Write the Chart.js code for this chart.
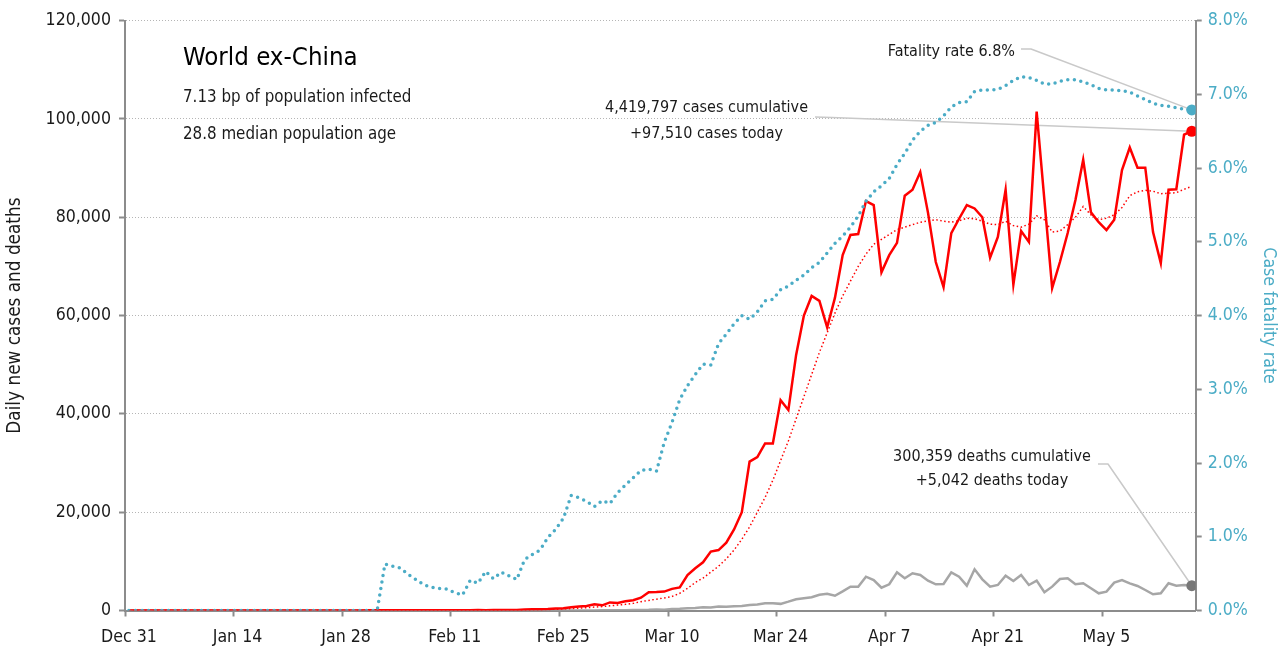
<!DOCTYPE html>
<html><head><meta charset="utf-8">
<script src="https://cdn.jsdelivr.net/npm/chart.js@4.4.1/dist/chart.umd.min.js"></script>
<style>html,body{margin:0;padding:0;background:#fff;overflow:hidden}#wrap{width:1284px;height:652px}</style>
</head><body><div id="wrap"><canvas id="c" width="1284" height="652"></canvas></div>
<script>
// ---------- DATA ----------
const startDate = '2019-12-31';
const tickLabels = ['Dec 31','Jan 14','Jan 28','Feb 11','Feb 25','Mar 10','Mar 24','Apr 7','Apr 21','May 5'];
const casesTicks = [0,20000,40000,60000,80000,100000,120000];
const rateTicks = [0,1,2,3,4,5,6,7,8];

const cases = [0,0,0,0,0,0,0,0,0,0,0,0,0,1,0,1,1,0,0,1,
  2,3,4,9,8,12,15,22,18,20,25,30,
  28,35,26,30,32,40,45,60,42,55,48,65,58,80,70,110,90,100,95,
  200,250,260,300,400,
  450,650,800,900,1250,1050,1650,1550,1900,2100,2600,3700,3750,3850,4400,4700,7200,8600,9800,
  12000,12300,13800,16500,20000,30300,31200,34000,34000,42800,40800,52000,60000,64000,63000,57600,63600,72300,76400,76600,
  83300,82500,68800,72300,74800,84400,85600,89200,80900,70900,65800,76800,79700,82500,81800,80000,71800,76000,85600,66300,
  77200,75000,101500,83500,65600,70900,76800,83500,91700,81000,79000,77400,79500,89600,94200,90100,90100,77000,70700,85600,
  85700,96800,97510];

const casesAvg = [0,0,0,0,0,0,0,0,0,0,0,0,0,0,0,0,0,0,0,0,
  1,1,2,3,4,5,7,8,10,12,13,15,
  17,19,21,23,24,27,30,35,38,42,46,50,53,58,62,70,75,85,90,
  105,130,165,205,260,
  320,400,480,570,690,790,950,1100,1250,1450,1800,2050,2300,2550,2850,3500,4500,5700,6600,
  7800,9000,10500,12300,14500,17000,20000,23000,26500,30500,34500,39000,43500,48000,52500,56500,60500,64000,67000,70000,
  72500,74500,75500,76500,77500,78000,78500,79000,79300,79500,
  79200,79000,79300,79800,79700,79200,78600,78500,79200,78300,78000,78600,80300,79500,77000,77200,78500,80000,82200,80500,
  79500,79800,80500,82000,84400,85200,85500,85300,84800,84900,85000,85700,86300];

const deaths = [0,0,0,0,0,0,0,0,0,0,0,0,0,0,0,0,0,0,0,0,0,0,0,0,0,0,0,0,0,0,0,0,0,0,0,0,0,0,0,0,0,
  0,0,1,0,1,1,0,1,0,1,2,3,5,5,10,
  12,15,18,20,25,35,45,55,60,80,100,130,200,170,
  300,350,450,500,650,600,800,750,850,900,1100,1200,1450,1450,1350,1800,2300,2500,2700,3200,3400,3000,3900,
  4850,4850,6880,6200,4650,5330,7770,6550,7570,7220,6070,5330,5390,7770,6880,5050,8380,6350,4850,5190,
  7080,6000,7220,5190,6070,3700,4850,6410,6550,5330,5530,4520,3500,3830,5660,6200,5530,4990,4170,3300,
  3500,5530,5050,5190,5042];

const fatalityRate = [0,0,0,0,0,0,0,0,0,0,0,0,0,0,0,0,0,0,0,0,0,0,0,0,0,0,0,0,0,0,0,0,0,
  0.63,0.60,0.575,0.49,0.42,0.35,0.315,0.30,0.29,0.24,0.21,0.41,0.37,0.53,0.43,0.52,0.47,0.42,0.69,0.76,0.82,0.99,1.10,1.25,
  1.56,1.53,1.48,1.41,1.49,1.45,1.60,1.70,1.80,1.90,1.92,1.89,2.28,2.55,2.86,3.05,3.20,3.34,3.33,3.62,3.75,3.89,4.0,
  3.95,4.05,4.20,4.22,4.35,4.40,4.48,4.55,4.65,4.72,4.85,4.98,5.08,5.20,
  5.35,5.55,5.68,5.76,5.86,6.05,6.20,6.38,6.50,6.58,6.62,6.71,6.83,6.89,6.90,7.04,7.06,7.06,7.07,7.12,
  7.19,7.24,7.23,7.19,7.14,7.14,7.18,7.20,7.20,7.17,7.13,7.08,7.06,7.06,7.05,7.03,6.98,6.93,6.88,6.85,
  6.84,6.82,6.80,6.79];

const titleText = 'World ex-China';
const subLines = ['7.13 bp of population infected','28.8 median population age'];
const casesNote = ['4,419,797 cases cumulative','+97,510 cases today'];
const deathsNote = ['300,359 deaths cumulative','+5,042 deaths today'];
const rateNote = 'Fatality rate 6.8%';

// ---------- STYLE ----------
const dayIndex = cases.map((_, i) => i);
const dates = dayIndex.map(i => { const d = new Date(startDate + 'T00:00:00Z'); d.setUTCDate(d.getUTCDate() + i); return d.toISOString().slice(0,10); });

function hasFont(f){
  const c = document.createElement('canvas').getContext('2d');
  const s = 'World ex-China 120,000 mmmwwwiii';
  c.font = '40px monospace'; const a = c.measureText(s).width;
  c.font = `40px '${f}', monospace`; return Math.abs(c.measureText(s).width - a) > 0.5;
}
let FAM, K;
if (hasFont('Liberation Sans Narrow')) { FAM = "'Liberation Sans Narrow', sans-serif"; K = 1; }
else if (hasFont('DejaVu Sans Condensed')) { FAM = "'DejaVu Sans Condensed', sans-serif"; K = 0.8; }
else { FAM = "Roboto, sans-serif"; K = 0.85; }
const fs = s => Math.round(s * K * 10) / 10;

const BLUE = '#4bacc6', RED = '#ff0000', GREY = '#a6a6a6', AXIS = '#8c8c8c', TXT = '#1a1a1a';
const last = cases.length - 1;
Chart.defaults.font.family = FAM;

const annotPlugin = {
  id: 'annot',
  beforeDatasetsDraw(chart) {
    const {ctx, scales: {x, y, y1}} = chart;
    const px = x.getPixelForValue(last);
    ctx.save();
    ctx.strokeStyle = '#c9c9c9'; ctx.lineWidth = 1.5; ctx.lineJoin = 'round';
    const pl = pts => { ctx.beginPath(); ctx.moveTo(pts[0][0], pts[0][1]); pts.slice(1).forEach(p => ctx.lineTo(p[0], p[1])); ctx.stroke(); };
    pl([[1021,49],[1031,49],[px, y1.getPixelForValue(fatalityRate[last])]]);
    pl([[815,117],[832,117.5],[px, y.getPixelForValue(cases[last])]]);
    pl([[1098,464],[1108,464],[px, y.getPixelForValue(deaths[last])]]);
    ctx.restore();
  },
  afterDraw(chart) {
    const ctx = chart.ctx;
    ctx.save();
    ctx.fillStyle = '#000'; ctx.textBaseline = 'alphabetic';
    ctx.textAlign = 'left';
    ctx.font = `${fs(32)}px ${FAM}`;
    ctx.fillText(titleText, 183, 65);
    ctx.fillStyle = TXT;
    ctx.font = `${fs(21)}px ${FAM}`;
    ctx.fillText(subLines[0], 183, 102);
    ctx.fillText(subLines[1], 183, 139);
    ctx.font = `${fs(20)}px ${FAM}`;
    ctx.textAlign = 'right';
    ctx.fillText(rateNote, 1015, 55.5);
    ctx.textAlign = 'center';
    ctx.fillText(casesNote[0], 706.5, 112);
    ctx.fillText(casesNote[1], 706.5, 138);
    ctx.fillText(deathsNote[0], 992, 460.5);
    ctx.fillText(deathsNote[1], 992, 485);
    ctx.restore();
  }
};

const endRadius = r => (c => c.dataIndex === last ? r : 0);

new Chart(document.getElementById('c'), {
  type: 'line',
  data: {
    labels: dayIndex,
    datasets: [
      { label: 'Case fatality rate', data: fatalityRate, yAxisID: 'y1', borderColor: BLUE, backgroundColor: BLUE,
        borderWidth: 3.5, borderDash: [0, 6.6], borderCapStyle: 'round', pointRadius: endRadius(5.5), pointBorderWidth: 0, order: 1 },
      { label: 'Daily new cases', data: cases, yAxisID: 'y', borderColor: RED, backgroundColor: RED,
        borderWidth: 2.5, pointRadius: endRadius(5.5), pointBorderWidth: 0, order: 2 },
      { label: '7-day average', data: casesAvg, yAxisID: 'y', borderColor: RED,
        borderWidth: 1.5, borderDash: [1.5, 2.5], pointRadius: 0, order: 3 },
      { label: 'Daily deaths', data: deaths, yAxisID: 'y', borderColor: GREY, backgroundColor: '#777',
        borderWidth: 2.5, pointRadius: endRadius(5.5), pointBorderWidth: 0, order: 4 }
    ]
  },
  options: {
    responsive: false, animation: false, devicePixelRatio: 1,
    layout: { padding: { top: 20.7, left: 0, right: 0, bottom: 0 } },
    plugins: { legend: { display: false }, tooltip: { enabled: false } },
    elements: { line: { tension: 0 } },
    scales: {
      x: {
        type: 'linear', min: -0.5, max: last + 0.5,
        afterBuildTicks: s => { s.ticks = tickLabels.map((_, i) => ({ value: -0.5 + 14 * i })); },
        afterFit: s => { s.height = 41.5; },
        ticks: { callback: (v, i) => tickLabels[i], labelOffset: 3.9, autoSkip: false, maxRotation: 0, padding: 10,
                 color: TXT, font: { size: fs(22) } },
        grid: { display: true, drawOnChartArea: false, drawTicks: true, tickLength: 6, tickColor: AXIS, tickWidth: 2, color: AXIS },
        border: { display: true, color: AXIS, width: 2 }
      },
      y: {
        position: 'left', min: 0, max: 120000,
        afterBuildTicks: s => { s.ticks = casesTicks.map(v => ({ value: v })); },
        afterFit: s => { s.width = 125; },
        ticks: { callback: v => v.toLocaleString('en-US'), color: TXT, padding: 8, font: { size: fs(22) } },
        grid: { color: '#b5b5b5', lineWidth: 1, tickLength: 6, tickColor: AXIS, tickWidth: 2 },
        border: { display: true, color: AXIS, width: 2, dash: [1, 2] },
        title: { display: true, text: 'Daily new cases and deaths', color: TXT, font: { size: fs(23.5) }, padding: { top: 4, bottom: 0 } }
      },
      y1: {
        position: 'right', min: 0, max: 8,
        afterBuildTicks: s => { s.ticks = rateTicks.map(v => ({ value: v })); },
        afterFit: s => { s.width = 88.3; },
        ticks: { callback: v => v.toFixed(1) + '%', color: BLUE, padding: 6, font: { size: fs(22) } },
        grid: { drawOnChartArea: false, tickLength: 6, tickColor: AXIS, tickWidth: 2, color: AXIS },
        border: { display: true, color: AXIS, width: 2 },
        title: { display: true, text: 'Case fatality rate', color: BLUE, font: { size: fs(22) }, padding: { top: 5, bottom: 0 } }
      }
    }
  },
  plugins: [annotPlugin]
});
</script></body></html>
